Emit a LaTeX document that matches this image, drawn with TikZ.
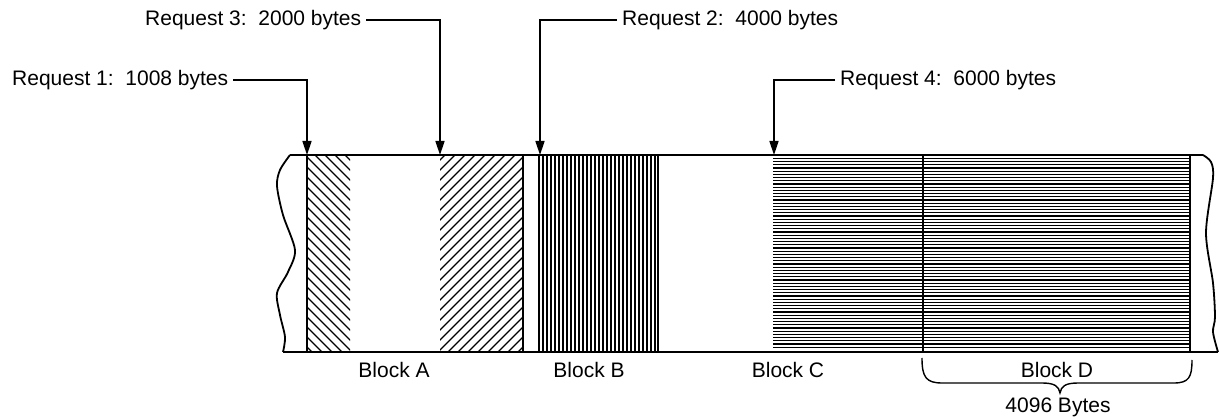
\documentclass[tikz,border=0pt]{standalone}
\usepackage{fontspec}
\setmainfont{Liberation Sans}
\usetikzlibrary{arrows.meta}
\begin{document}
\begin{tikzpicture}[x=1pt,y=-1pt,
  lbl/.style={font=\fontsize{21}{24}\selectfont, inner sep=2pt},
  arr/.style={line width=1.6pt, -{Triangle[length=14pt,width=9pt]}},
  edge/.style={line width=1.8pt},
  hatch/.style={line width=1.3pt},
  vhatch/.style={line width=1.1pt},
  hhatch/.style={line width=1.2pt}]
\useasboundingbox (0,0) rectangle (1219,419);

% hatching Block A (first part)
\begin{scope}
  \clip (307,155) rectangle (350,352);
  \foreach \c in {-200,-190,...,50} \draw[hatch] (300,300+\c) -- (360,360+\c);
\end{scope}
% hatching Block A (second part)
\begin{scope}
  \clip (440,155) rectangle (523,352);
  \foreach \c in {590,600,...,880} \draw[hatch] (430,\c-430) -- (530,\c-530);
\end{scope}
% Block B vertical lines
\foreach \x in {543,547,...,656} \draw[vhatch] (\x,155) -- (\x,352);
% Block C / D horizontal lines
\foreach \y in {158.5,161.7,...,350} \draw[hhatch] (773,\y) -- (1190,\y);

% frame
\draw[edge] (290,155) -- (1203,155);
\draw[edge] (283,352) -- (1218,352);
\draw[edge] plot[smooth] coordinates {(290,155) (280,170) (277,186) (283,215) (295,250) (288,272) (277,293) (280,315) (285,337) (283,352)};
\draw[edge] plot[smooth] coordinates {(1203,155) (1211,162) (1213,178) (1206,233) (1213,283) (1215,317) (1213,332) (1218,352)};
\draw[edge] (307,155) -- (307,352);
\draw[edge] (523,155) -- (523,352);
\draw[line width=1.4pt] (539,155) -- (539,352);
\draw[edge] (658,155) -- (658,352);
\draw[edge] (923,155) -- (923,352);
\draw[edge] (1190,155) -- (1190,352);

% request labels and arrows
\coordinate (t1) at (307,155);
\coordinate (t3) at (440,155);
\coordinate (t2) at (540,155);
\coordinate (t4) at (774,155);
\node[lbl, anchor=west] (r1) at (10,80) {Request 1:\ \ 1008 bytes};
\node[lbl, anchor=west] (r3) at (143,20) {Request 3:\ \ 2000 bytes};
\node[lbl, anchor=west] (r2) at (620,20) {Request 2:\ \ 4000 bytes};
\node[lbl, anchor=west] (r4) at (838,80) {Request 4:\ \ 6000 bytes};
\draw[arr] ([xshift=3pt]r1.east) -| (t1);
\draw[arr] ([xshift=3pt]r3.east) -| (t3);
\draw[arr] ([xshift=-3pt]r2.west) -| (t2);
\draw[arr] ([xshift=-3pt]r4.west) -| (t4);

% block labels
\node[lbl] (ba) at (394,370) {Block A};
\node[lbl] (bb) at (589,370) {Block B};
\node[lbl] (bc) at (788,370) {Block C};
\node[lbl] (bd) at (1057,370) {Block D};
\node[lbl] (sz) at (1058,407) {4096 Bytes};

% brace
\draw[line width=1.4pt] (922,358) .. controls (922,377) and (926,383) .. (942,383)
  -- (1042,383) .. controls (1054,383) and (1059,386) .. (1060,393)
  .. controls (1061,386) and (1066,383) .. (1078,383)
  -- (1174,383) .. controls (1189,383) and (1192,377) .. (1192,360);
\end{tikzpicture}
\end{document}
